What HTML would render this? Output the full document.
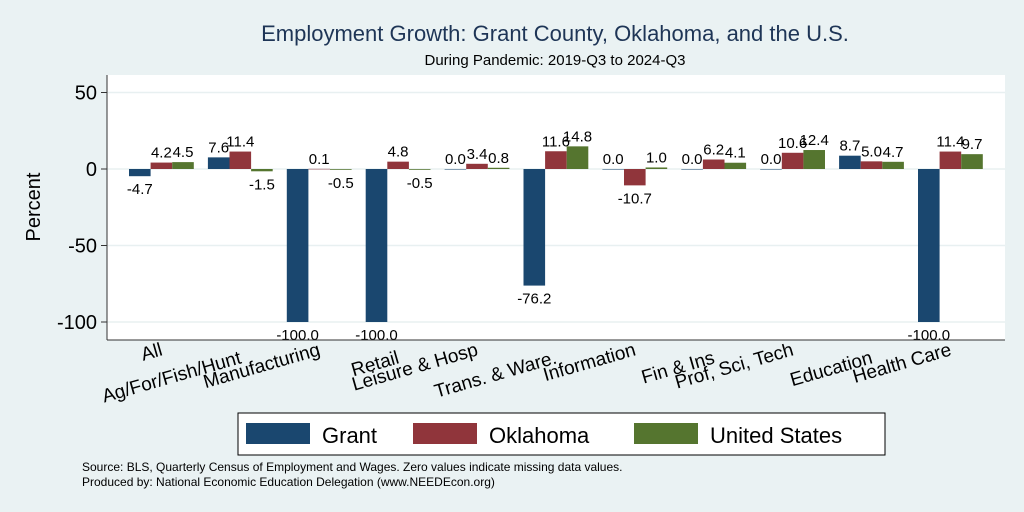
<!DOCTYPE html>
<html><head><meta charset="utf-8"><style>
body{margin:0;background:#EAF2F3;}
svg{display:block;font-family:"Liberation Sans",Arial,sans-serif;}
</style></head><body>
<svg id="c" width="1024" height="512">
<rect x="0" y="0" width="1024" height="512" fill="#EAF2F3"/>
<rect x="107" y="75" width="898" height="265" fill="#fff"/>
<text x="555" y="41" text-anchor="middle" font-size="22" fill="#1e3556">Employment Growth: Grant County, Oklahoma, and the U.S.</text>
<text x="555" y="65" text-anchor="middle" font-size="15" fill="#000">During Pandemic: 2019-Q3 to 2024-Q3</text>
<text transform="translate(40,207) rotate(-90)" text-anchor="middle" font-size="20">Percent</text>
<g id="grid"></g><g id="bars"></g><g id="labels"></g><g id="xlabels"></g>
<line x1="107" y1="75" x2="107" y2="340" stroke="#333" stroke-width="1"/>
<line x1="107" y1="340" x2="1005" y2="340" stroke="#333" stroke-width="1"/>
<g>
<rect x="238" y="413" width="647" height="42" fill="#fff" stroke="#000" stroke-width="1"/>
<rect x="246" y="423" width="64" height="21" fill="#1a476f"/>
<text x="322" y="443" font-size="22">Grant</text>
<rect x="413" y="423" width="64" height="21" fill="#90353b"/>
<text x="489" y="443" font-size="22">Oklahoma</text>
<rect x="634" y="423" width="64" height="21" fill="#55752f"/>
<text x="710" y="443" font-size="22">United States</text>
</g>
<text x="82" y="471" font-size="12">Source: BLS, Quarterly Census of Employment and Wages. Zero values indicate missing data values.</text>
<text x="82" y="486" font-size="12">Produced by: National Economic Education Delegation (www.NEEDEcon.org)</text>
</svg>
<script>
const categories=["All","Ag/For/Fish/Hunt","Manufacturing","Retail","Leisure & Hosp","Trans. & Ware.","Information","Fin & Ins","Prof, Sci, Tech","Education","Health Care"];
const grant=[-4.7,7.6,-100,-100,0.0,-76.2,0.0,0.0,0.0,8.7,-100];
const oklahoma=[4.2,11.4,0.1,4.8,3.4,11.6,-10.7,6.2,10.6,5.0,11.4];
const us=[4.5,-1.5,-0.5,-0.5,0.8,14.8,1.0,4.1,12.4,4.7,9.7];
const yTicks=[50,0,-50,-100];
const seriesNames=["grant","oklahoma","us"];
const colors=["#1a476f","#90353b","#55752f"];
const NS="http://www.w3.org/2000/svg";
const y=v=>169-1.53*v;
const gx=i=>129+78.9*i;
const bw=21.6;
function mk(tag,attrs,parent){const e=document.createElementNS(NS,tag);for(const k in attrs)e.setAttribute(k,attrs[k]);parent.appendChild(e);return e;}
const grid=document.getElementById('grid');
yTicks.forEach(t=>{
  const l=mk('line',{x1:107,x2:1005,y1:y(t),y2:y(t),stroke:'#e8f0f1','stroke-width':1.5},grid);
  
  
  const tk=mk('line',{x1:101,x2:107,y1:y(t),y2:y(t),stroke:'#333'},grid);
  
  
  const tx=mk('text',{x:97,y:y(t)+7,'text-anchor':'end','font-size':20},grid);
  tx.textContent=t;
  
  
});
const bars=document.getElementById('bars'),labels=document.getElementById('labels'),xl=document.getElementById('xlabels');
[grant,oklahoma,us].forEach((s,si)=>{
  s.forEach((v,i)=>{
    const x=gx(i)+si*bw;
    const y0=Math.min(y(0),y(v)),h=Math.abs(y(v)-y(0));
    const r=mk('rect',{x:x,y:y0,width:bw,height:Math.max(h,0.5),fill:colors[si]},bars);
    
    
    const ly=v>=0?y(v)-5:y(v)+18;
    const t=mk('text',{x:x+bw/2,y:ly,'text-anchor':'middle','font-size':15},labels);
    t.textContent=v.toFixed(1);
    
    
  });
});
categories.forEach((c,i)=>{
  const cx=gx(i)+1.5*bw+2;
  const by=i%2===0?355:363;
  const t=mk('text',{x:cx,y:by,'text-anchor':'end','font-size':19,transform:`rotate(-16 ${cx} ${by})`},xl);
  t.textContent=c;
  
  
});
</script>
</body></html>
